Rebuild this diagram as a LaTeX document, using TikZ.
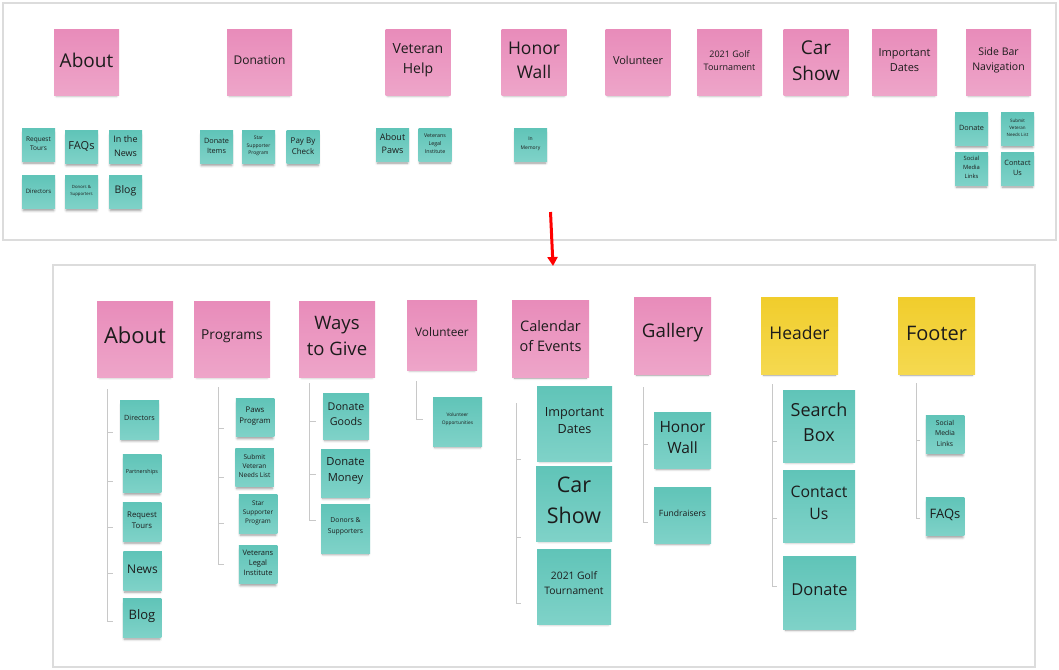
\documentclass[tikz,border=0pt]{standalone}
\usepackage{fontspec}
\setmainfont{Open Sans}
\usetikzlibrary{shadows,shadows.blur,arrows.meta}
\definecolor{pinkT}{HTML}{E88CBA}
\definecolor{pinkB}{HTML}{EEA5C9}
\definecolor{tealT}{HTML}{60C4B8}
\definecolor{tealB}{HTML}{7FD2C8}
\definecolor{yelT}{HTML}{F1CD2C}
\definecolor{yelB}{HTML}{F5D950}
\definecolor{txtc}{HTML}{1C1C1C}
\definecolor{framec}{HTML}{DCDCDC}
\definecolor{treec}{HTML}{C8C8C8}
\newcommand\fs[2]{\fontsize{#1pt}{#2pt}\selectfont}
% #1 style+size, #2 name, #3 position, #4 font size, #5 leading, #6 text, #7 text lift
\newcommand\nt[7]{%
  \node[#1] (#2) at (#3) {};
  \node[txtn, font={\fs{#4}{#5}}, yshift=#7] (#2-t) at (#2.center) {#6};}
\tikzset{
  note/.style={inner sep=0pt, draw=none,
    blur shadow={shadow xshift=0pt, shadow yshift=-3.5pt, shadow scale=0.93,
      shadow blur radius=2.5pt, shadow opacity=40}},
  pk/.style={note, top color=pinkT, bottom color=pinkB},
  tl/.style={note, top color=tealT, bottom color=tealB},
  yl/.style={note, top color=yelT, bottom color=yelB},
  txtn/.style={inner sep=0pt, align=center, text=txtc},
  frm/.style={draw=framec, line width=1.3pt},
  tree/.style={draw=treec, line width=0.8pt},
  redarrow/.style={draw=red, line width=3pt, -{Triangle[length=9pt,width=10pt]}}
}
\begin{document}
\begin{tikzpicture}[x=1pt,y=-1pt]
\useasboundingbox (0,0) rectangle (1059,669);
% frames
\draw[frm] (3,3) rectangle (1056,240);
\draw[frm] (53,265) rectangle (1035,667);

% ---------- top panel ----------
\nt{pk, minimum size=65pt}{tAbout}{86.5,62.5}{19}{24}{About}{2.5pt}
\nt{pk, minimum size=65pt}{tDonation}{259.5,62.5}{12}{16}{Donation}{2pt}
\nt{pk, minimum size=65pt}{tVet}{418,62.5}{14}{20}{Veteran\\Help}{2pt}
\nt{pk, minimum size=65pt}{tHonor}{534,62.5}{17.5}{24}{Honor\\Wall}{2.5pt}
\nt{pk, minimum size=65pt}{tVol}{638,62.5}{11}{15}{Volunteer}{2pt}
\nt{pk, minimum size=65pt}{tGolf}{729.5,62.5}{9}{13}{2021 Golf\\Tournament}{2pt}
\nt{pk, minimum size=65pt}{tCar}{816,62.5}{19}{26}{Car\\Show}{2pt}
\nt{pk, minimum size=65pt}{tDates}{904.5,62.5}{11}{15}{Important\\Dates}{2pt}
\nt{pk, minimum size=65pt}{tSide}{998.5,62.5}{10.5}{14.5}{Side Bar\\Navigation}{2pt}

\nt{tl, minimum size=33pt}{tReq}{38.5,144.5}{6.5}{9.5}{Request\\Tours}{1pt}
\nt{tl, minimum size=33pt}{tFAQ}{81.5,147}{11}{14}{FAQs}{1pt}
\nt{tl, minimum size=33pt}{tNews}{125.5,147}{9}{13.5}{In the\\News}{1pt}
\nt{tl, minimum size=33pt}{tDir}{38.5,192}{6}{8}{Directors}{1pt}
\nt{tl, minimum size=33pt}{tDonors}{81.5,192}{4.3}{6.5}{Donors \&\\Supporters}{1pt}
\nt{tl, minimum size=33pt}{tBlog}{125.5,192}{10.5}{13}{Blog}{1pt}
\nt{tl, minimum size=33pt}{tItems}{216.5,147}{7.3}{10.5}{Donate\\Items}{1pt}
\nt{tl, minimum size=33pt}{tStar}{258.5,147}{5}{7.5}{Star\\Supporter\\Program}{1pt}
\nt{tl, minimum size=33pt}{tPay}{303,147}{8}{11}{Pay By\\Check}{1pt}
\nt{tl, minimum size=33pt}{tPaws}{392.5,144.5}{9}{13}{About\\Paws}{1pt}
\nt{tl, minimum size=33pt}{tLegal}{435,144.5}{5.3}{8}{Veterans\\Legal\\Institute}{1pt}
\nt{tl, minimum size=33pt}{tMem}{530.5,144.5}{5}{9}{In\\Memory}{1pt}
\nt{tl, minimum size=33pt}{tSDon}{971.5,129}{7.3}{10}{Donate}{1pt}
\nt{tl, minimum size=33pt}{tSub}{1017.5,129}{4.5}{7}{Submit\\Veteran\\Needs List}{1pt}
\nt{tl, minimum size=33pt}{tSoc}{971.5,168.5}{5.8}{9}{Social\\Media\\Links}{1pt}
\nt{tl, minimum size=33pt}{tCon}{1017.5,168.5}{7.3}{10}{Contact\\Us}{1pt}

% red arrow
\coordinate (arA) at (550.5,212);
\coordinate (arB) at (553,266);
\draw[redarrow] (arA) -- (arB);

% ---------- bottom panel ----------
\nt{pk, minimum size=76pt}{bAbout}{135,339}{22}{28}{About}{4pt}
\nt{pk, minimum size=76pt}{bProg}{232,339}{13.7}{18}{Programs}{3pt}
\nt{pk, minimum size=76pt}{bWays}{337,339}{18.5}{25.5}{Ways\\to Give}{3pt}
\nt{pk, minimum size=70pt}{bVol}{442,335}{11.8}{16}{Volunteer}{3pt}
\nt{pk, minimum size=77pt}{bCal}{550.5,339}{14.5}{19.5}{Calendar\\of Events}{3pt}
\nt{pk, minimum size=77pt}{bGal}{672.5,336}{18.7}{24}{Gallery}{3pt}
\nt{yl, minimum size=77pt}{bHead}{799.5,336}{17.5}{22}{Header}{3pt}
\nt{yl, minimum size=77pt}{bFoot}{936.5,336}{20}{25}{Footer}{3pt}

% About children
\nt{tl, minimum size=39pt}{bDir}{139.5,419.5}{7.2}{10}{Directors}{1.5pt}
\nt{tl, minimum size=38.5pt}{bPart}{142,473.5}{5.4}{8}{Partnerships}{1.5pt}
\nt{tl, minimum size=38.5pt}{bReq}{142,522}{7.8}{11}{Request\\Tours}{1.5pt}
\nt{tl, minimum size=38.5pt}{bNews}{142.5,571}{12}{15}{News}{1.5pt}
\nt{tl, minimum size=38.5pt}{bBlog}{142,618}{13}{16}{Blog}{1.5pt}
% Programs children
\nt{tl, minimum size=38.5pt}{bPaws}{255,417.5}{7.8}{11}{Paws\\Program}{1.5pt}
\nt{tl, minimum size=38.5pt}{bSub}{254.5,467.5}{6.6}{9.2}{Submit\\Veteran\\Needs List}{1.5pt}
\nt{tl, minimum size=38.5pt}{bStar}{258,514}{6.4}{9}{Star\\Supporter\\Program}{1.5pt}
\nt{tl, minimum size=38.5pt}{bLegal}{258,564.5}{7.5}{10}{Veterans\\Legal\\Institute}{1.5pt}
% Ways children
\nt{tl, minimum width=46pt, minimum height=46pt}{bGoods}{346,416}{10.7}{15}{Donate\\Goods}{2pt}
\nt{tl, minimum width=49pt, minimum height=48pt}{bMoney}{345.5,473}{11.2}{16}{Donate\\Money}{2pt}
\nt{tl, minimum size=49pt}{bDonors}{345.5,528.5}{6.8}{10.5}{Donors \&\\Supporters}{2pt}
% Volunteer child
\nt{tl, minimum size=49pt}{bOpp}{457.5,421.5}{4.8}{8}{Volunteer\\Opportunities}{2.5pt}
% Calendar children
\nt{tl, minimum size=75pt}{bDates}{574.5,423.5}{12.6}{17.5}{Important\\Dates}{3pt}
\nt{tl, minimum width=76pt, minimum height=75pt}{bCar}{574,503.5}{21.5}{31}{Car\\Show}{3pt}
\nt{tl, minimum width=74pt, minimum height=75pt}{bGolf}{574,586.5}{10.3}{15}{2021 Golf\\Tournament}{3pt}
% Gallery children
\nt{tl, minimum width=57pt, minimum height=56pt}{bHonor}{682.5,440}{15.5}{21}{Honor\\Wall}{2pt}
\nt{tl, minimum width=57pt, minimum height=56pt}{bFund}{682.5,515}{8.6}{11}{Fundraisers}{2pt}
% Header children
\nt{tl, minimum size=72pt}{bSearch}{819,426}{18}{25}{Search\\Box}{3.5pt}
\nt{tl, minimum size=72pt}{bContact}{819,506}{15.8}{22}{Contact\\Us}{3pt}
\nt{tl, minimum size=73pt}{bDonate}{819.5,593}{16.5}{20}{Donate}{3pt}
% Footer children
\nt{tl, minimum size=38.5pt}{bSoc}{945,434.5}{6.8}{10.5}{Social\\Media\\Links}{1.5pt}
\nt{tl, minimum size=38.5pt}{bFAQ}{945,516.5}{13}{16}{FAQs}{1.5pt}

% ---------- tree connectors ----------
% About
\coordinate (sAbout) at (107,389);
\coordinate (kDir) at (113,432);
\coordinate (kPart) at (113,481);
\coordinate (kReq) at (113,527);
\coordinate (kNews) at (113,573);
\coordinate (kBlog) at (113,621);
\foreach \k in {kDir,kPart,kReq,kNews,kBlog} \draw[tree] (sAbout) |- (\k);
% Programs
\coordinate (sProg) at (218,387);
\coordinate (kPaws) at (224,428);
\coordinate (kSub) at (224,477);
\coordinate (kStar) at (224,523);
\coordinate (kLegal) at (224,564);
\foreach \k in {kPaws,kSub,kStar,kLegal} \draw[tree] (sProg) |- (\k);
% Ways to Give
\coordinate (sWays) at (309,383);
\coordinate (kGoods) at (316,421);
\coordinate (kMoney) at (316,474);
\coordinate (kDonors) at (316,520);
\foreach \k in {kGoods,kMoney,kDonors} \draw[tree] (sWays) |- (\k);
% Volunteer
\coordinate (sVol) at (416,381);
\coordinate (kOpp) at (423,419);
\draw[tree] (sVol) |- (kOpp);
% Calendar
\coordinate (sCal) at (516,403);
\coordinate (kDates) at (521,459);
\coordinate (kCar) at (521,537);
\coordinate (kGolf) at (521,603);
\foreach \k in {kDates,kCar,kGolf} \draw[tree] (sCal) |- (\k);
% Gallery
\coordinate (sGal) at (643,387);
\coordinate (kHonor) at (648,444);
\coordinate (kFund) at (648,522);
\foreach \k in {kHonor,kFund} \draw[tree] (sGal) |- (\k);
% Header
\coordinate (sHead) at (772,384);
\coordinate (kSearch) at (777,441);
\coordinate (kContact) at (777,518);
\coordinate (kDonate) at (777,586);
\foreach \k in {kSearch,kContact,kDonate} \draw[tree] (sHead) |- (\k);
% Footer
\coordinate (sFoot) at (916,383);
\coordinate (kSoc) at (920,440);
\coordinate (kFAQ) at (920,518);
\foreach \k in {kSoc,kFAQ} \draw[tree] (sFoot) |- (\k);
\end{tikzpicture}
\end{document}
